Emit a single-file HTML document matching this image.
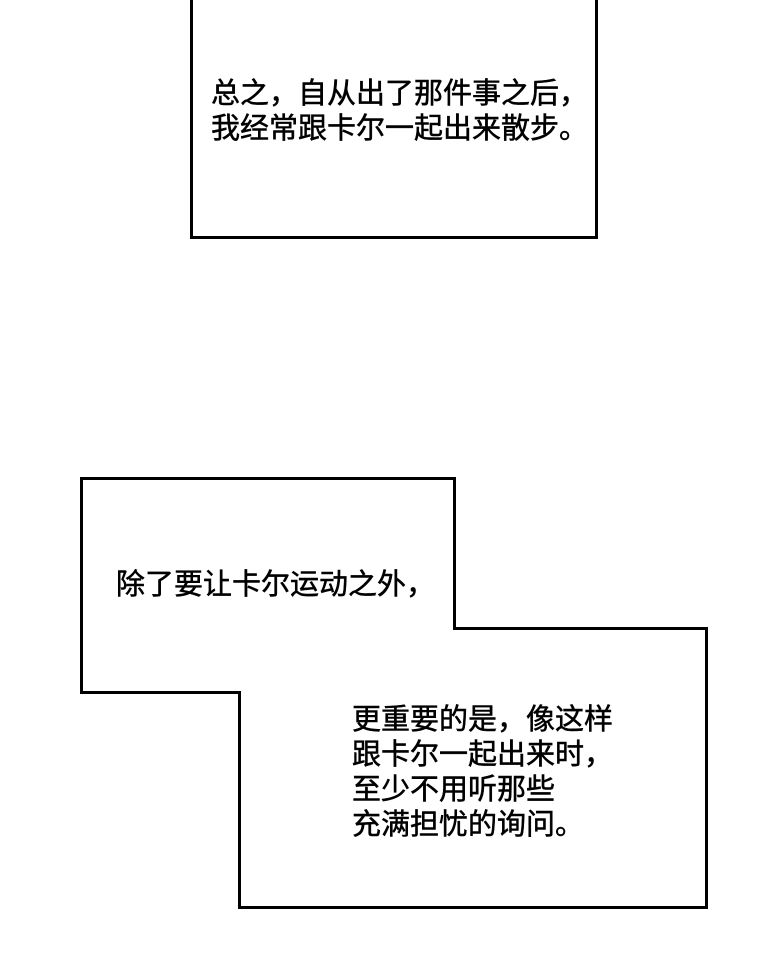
<!DOCTYPE html>
<html><head><meta charset="utf-8"><style>
html,body{margin:0;padding:0;background:#fff;}
svg{display:block;}
text{font-family:"Liberation Sans","Noto Sans CJK SC",sans-serif;font-size:29px;fill:#000;stroke:#000;stroke-width:0.5;}
</style></head><body>
<svg width="760" height="969" viewBox="0 0 760 969" xmlns="http://www.w3.org/2000/svg">
<rect x="0" y="0" width="760" height="969" fill="#fff"/>
<path d="M191.5 -5 V237.5 H596.5 V-5" fill="none" stroke="#000" stroke-width="3"/>
<text x="211" y="103">总之，自从出了那件事之后，</text>
<text x="211" y="138">我经常跟卡尔一起出来散步。</text>
<path d="M81.5 478.5 H454.5 V628.5 H706.5 V907.5 H239.5 V692.5 H81.5 Z" fill="none" stroke="#000" stroke-width="3"/>
<text x="116" y="594">除了要让卡尔运动之外，</text>
<text x="352" y="729">更重要的是，像这样</text>
<text x="352" y="764">跟卡尔一起出来时，</text>
<text x="352" y="799">至少不用听那些</text>
<text x="352" y="834">充满担忧的询问。</text>
</svg>
</body></html>
